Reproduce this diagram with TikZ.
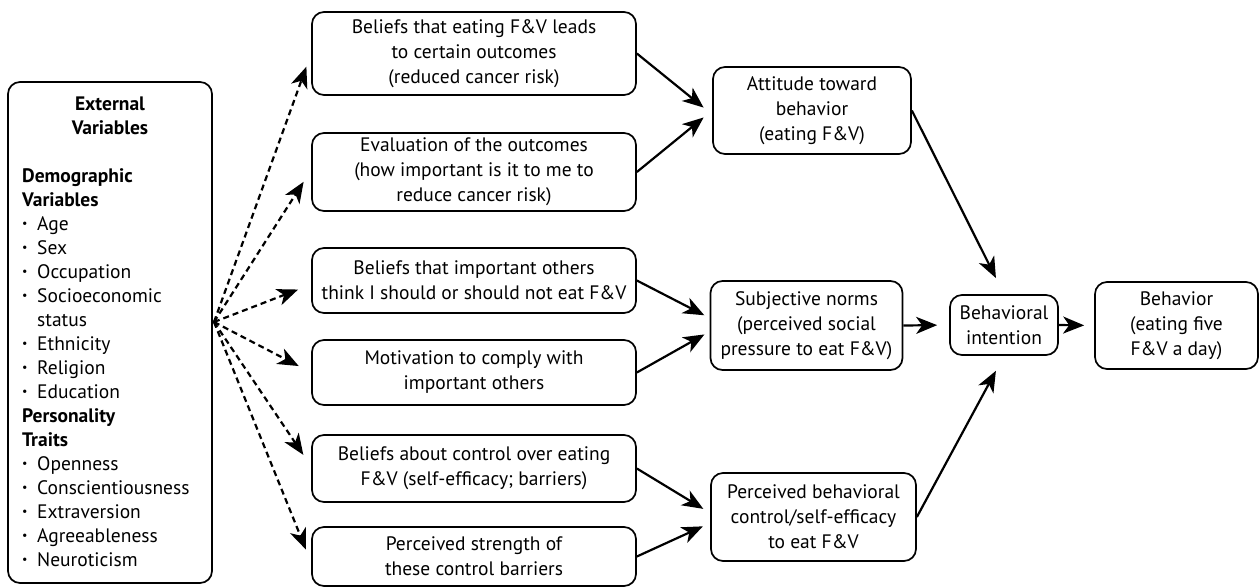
\documentclass[tikz,border=0pt]{standalone}
\usepackage{fontspec}
\setmainfont{PT Sans}
\usetikzlibrary{arrows.meta}
\newcommand\blt{\makebox[15pt][l]{\raisebox{0.25ex}{\fontsize{12}{12}\selectfont\textbullet}}}
\begin{document}
\begin{tikzpicture}[x=1pt,y=-1pt,
  box/.style={draw, line width=1.7pt, rounded corners=12pt, align=center, inner sep=0pt,
              font=\fontsize{19.5}{25}\selectfont},
  con/.style={line width=2.2pt, -{Stealth[length=21pt,width=17pt,inset=6pt]}},
  dcon/.style={con, dash pattern=on 6pt off 4pt, shorten >=14pt},
  lbl/.style={inner sep=0pt, font=\fontsize{19.5}{24}\selectfont}
]
\useasboundingbox (0,0) rectangle (1260,587);

% external variables panel
\node[box, minimum width=204pt, minimum height=501pt] (ext) at (110,332.5) {};
\node[lbl, anchor=base, font=\fontsize{19.5}{24}\selectfont\bfseries] (exttitle) at (110,110)
  {\begin{tabular}[t]{@{}c@{}}External\\Variables\end{tabular}};
\node[lbl, anchor=base west] (extlist) at (22,182)
  {\begin{tabular}[t]{@{}l@{}l@{}}
    \multicolumn{2}{@{}l@{}}{\bfseries Demographic}\\
    \multicolumn{2}{@{}l@{}}{\bfseries Variables}\\
    \blt & Age\\
    \blt & Sex\\
    \blt & Occupation\\
    \blt & Socioeconomic\\
        & status\\
    \blt & Ethnicity\\
    \blt & Religion\\
    \blt & Education\\
    \multicolumn{2}{@{}l@{}}{\bfseries Personality}\\
    \multicolumn{2}{@{}l@{}}{\bfseries Traits}\\
    \blt & Openness\\
    \blt & Conscientiousness\\
    \blt & Extraversion\\
    \blt & Agreeableness\\
    \blt & Neuroticism
  \end{tabular}};
\coordinate (hub) at (214,322);

% belief boxes
\node[box, minimum width=324pt, minimum height=83pt] (b1) at (474,53.5)
  {Beliefs that eating F\&V leads\\to certain outcomes\\(reduced cancer risk)};
\node[box, minimum width=324pt, minimum height=78pt] (b2) at (474,172)
  {Evaluation of the outcomes\\(how important is it to me to\\reduce cancer risk)};
\node[box, minimum width=324pt, minimum height=65pt] (b3) at (474,280.5)
  {Beliefs that important others\\think I should or should not eat F\&V};
\node[box, minimum width=324pt, minimum height=65pt] (b4) at (474,372.5)
  {Motivation to comply with\\important others};
\node[box, minimum width=324pt, minimum height=67pt] (b5) at (474,468.5)
  {Beliefs about control over eating\\F\&V (self-efficacy; barriers)};
\node[box, minimum width=324pt, minimum height=59pt] (b6) at (474,556.5)
  {Perceived strength of\\these control barriers};

% constructs
\node[box, minimum width=198pt, minimum height=87pt] (att) at (812,110.5)
  {Attitude toward\\behavior\\(eating F\&V)};
\node[box, minimum width=192pt, minimum height=89pt] (sub) at (806.5,325.5)
  {Subjective norms\\(perceived social\\pressure to eat F\&V)};
\node[box, minimum width=205pt, minimum height=88pt] (pbc) at (813.5,517)
  {Perceived behavioral\\control/self-efficacy\\to eat F\&V};
\node[box, minimum width=108pt, minimum height=60pt] (int) at (1004,325)
  {Behavioral\\intention};
\node[box, minimum width=163pt, minimum height=87pt] (beh) at (1176.5,325.5)
  {Behavior\\(eating five\\F\&V a day)};

% dashed influences of external variables
\draw[dcon] (hub) -- (b1.west);
\draw[dcon] (hub) -- ([yshift=2pt]b2.west);
\draw[dcon] (hub) -- ([yshift=-4pt]b3.west);
\draw[dcon] (hub) -- (b4.west);
\draw[dcon] (hub) -- ([yshift=2pt]b5.west);
\draw[dcon] (hub) -- ([yshift=-6pt]b6.west);

% beliefs to constructs
\draw[con, shorten >=11pt] (b1.east) -- ([yshift=-4pt]att.west);
\draw[con, shorten >=11pt] (b2.east) -- (att.west);
\draw[con, shorten >=6pt] (b3.east) -- ([yshift=7.5pt]sub.west);
\draw[con, shorten >=6pt] (b4.east) -- ([yshift=-6pt]sub.west);
\draw[con, shorten >=8pt] (b5.east) -- ([yshift=4pt]pbc.west);
\draw[con, shorten >=8pt] (b6.east) -- ([yshift=-6pt]pbc.west);

% constructs to intention and behavior
\draw[con, shorten >=18pt] (att.east) -- (int.north);
\draw[con, shorten >=12pt] (sub.east) -- (int.west);
\draw[con, shorten >=17pt] (pbc.east) -- (int.south);
\draw[con, shorten >=10pt] (int.east) -- (beh.west);
\end{tikzpicture}
\end{document}
